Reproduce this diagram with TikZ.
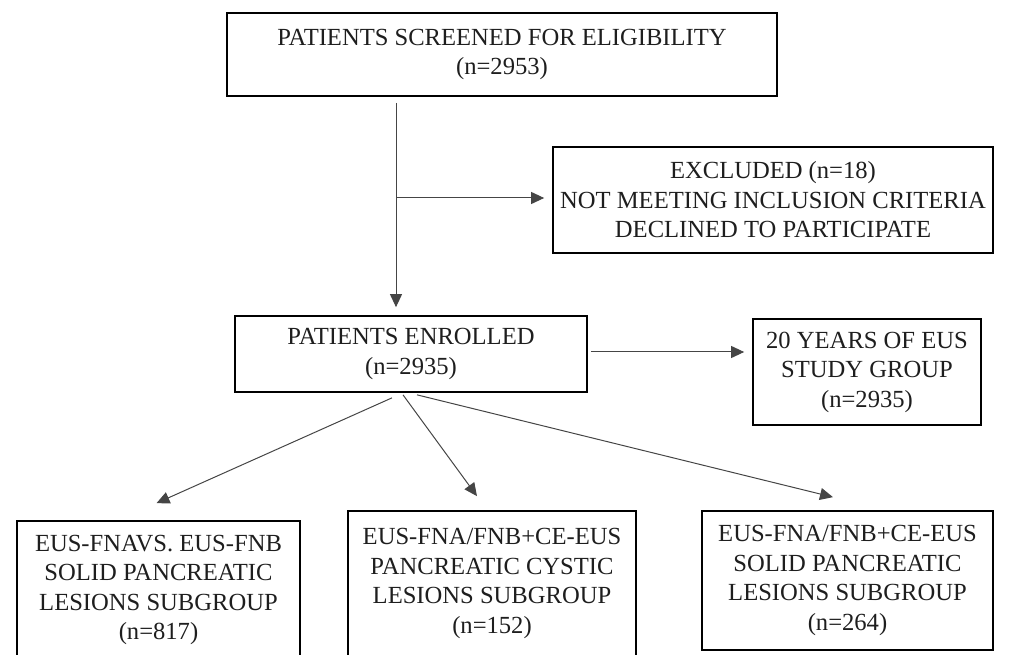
\documentclass[tikz,border=0pt]{standalone}
\usepackage{fontspec}
\setmainfont{Liberation Serif}
\usetikzlibrary{arrows.meta}
\definecolor{inkgray}{HTML}{1E1E1E}
\definecolor{linegray}{HTML}{454545}

\begin{document}
\begin{tikzpicture}[x=1pt,y=-1pt,
  box/.style={draw=black, line width=1.7pt, align=center, inner sep=1pt,
    text=inkgray, font=\fontsize{24.6}{29.5}\selectfont},
  conn/.style={draw=linegray, line width=1pt},
  arr/.style={conn, -{Triangle[length=13pt,width=12pt]}}]
\useasboundingbox (0,0) rectangle (1013,655);
\clip (0,0) rectangle (1013,655);

\node[box, minimum width=550pt, minimum height=83pt] (screened) at (502,54.5)
  {PATIENTS SCREENED FOR ELIGIBILITY\\(n=2953)};
\node[box, minimum width=440pt, minimum height=106pt] (excluded) at (773,200)
  {EXCLUDED (n=18)\\NOT MEETING INCLUSION CRITERIA\\DECLINED TO PARTICIPATE};
\node[box, minimum width=352pt, minimum height=76pt] (enrolled) at (411,354)
  {PATIENTS ENROLLED\\(n=2935)};
\node[box, minimum width=228pt, minimum height=106pt] (studygroup) at (867,372)
  {20 YEARS OF EUS\\STUDY GROUP\\(n=2935)};
\node[box, minimum width=283pt, minimum height=138pt] (subA) at (158.5,590)
  {EUS-FNAVS. EUS-FNB\\SOLID PANCREATIC\\LESIONS SUBGROUP\\(n=817)};
\node[box, minimum width=288pt, minimum height=145pt] (subB) at (492,583.5)
  {EUS-FNA/FNB+CE-EUS\\PANCREATIC CYSTIC\\LESIONS SUBGROUP\\(n=152)};
\node[box, minimum width=291pt, minimum height=139pt] (subC) at (847.5,580.5)
  {EUS-FNA/FNB+CE-EUS\\SOLID PANCREATIC\\LESIONS SUBGROUP\\(n=264)};

\coordinate (split) at (396,198);

\draw[arr, shorten <=6pt, shorten >=8pt] (screened.south -| split) -- (enrolled.north -| split);
\draw[arr, shorten >=8pt] (split) -- (excluded.west |- split);
\draw[arr, shorten <=3pt, shorten >=8pt] ([yshift=2pt]enrolled.east) -- ([yshift=2pt]enrolled.east -| studygroup.west);

\draw[arr] ([xshift=-19pt,yshift=-5pt]enrolled.south) -- ([xshift=-2pt,yshift=17pt]subA.north);
\draw[arr] ([xshift=-8pt,yshift=-2pt]enrolled.south) -- ([xshift=-15pt,yshift=14pt]subB.north);
\draw[arr] ([xshift=6pt,yshift=-2pt]enrolled.south) -- ([xshift=-14.5pt,yshift=13pt]subC.north);
\end{tikzpicture}
\end{document}
